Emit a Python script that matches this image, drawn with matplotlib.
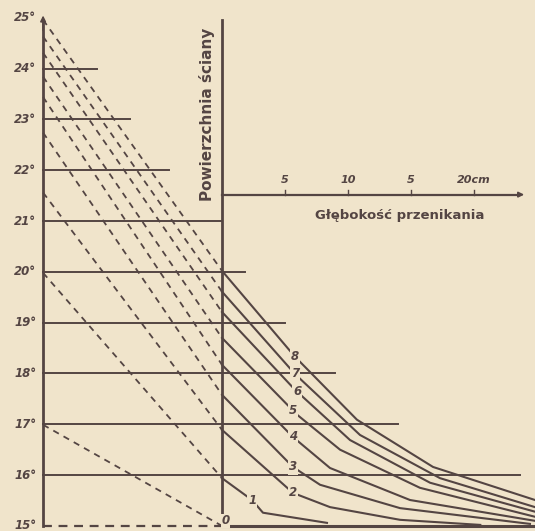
import numpy as np
import matplotlib.pyplot as plt

# temperature scale (deg C) and depth scale (cm)
temps = [15, 16, 17, 18, 19, 20, 21, 22, 23, 24, 25]
temp_labels = ['15°', '16°', '17°', '18°', '19°', '20°', '21°', '22°', '23°', '24°', '25°']
# right end (cm) of the horizontal temperature lines 16..24
hline_temps = [16, 17, 18, 19, 20, 21, 22, 23, 24]
hline_ends = [23.65, 13.97, 8.97, 5.0, 1.83, 0.0, -4.21, -7.30, -9.92]

depth_ticks = [5, 10, 15, 20]
depth_labels = ['5', '10', '5', '20cm']

# temperature profiles in the wall, curves 1..8 (depth cm, temp C)
curve_ids = [1, 2, 3, 4, 5, 6, 7, 8]
curve_depth = [
    [0, 2.38, 3.25, 8.33],
    [0, 5.63, 8.57, 14.13, 20.5],
    [0, 5.63, 7.78, 14.13, 24.44],
    [0, 5.63, 8.57, 14.92, 24.84],
    [0, 5.95, 9.37, 15.71, 24.84],
    [0, 5.79, 10.16, 16.51, 24.84],
    [0, 5.79, 10.95, 17.3, 24.84],
    [0, 5.79, 10.71, 16.75, 24.84],
]
curve_temp = [
    [15.94, 15.51, 15.26, 15.06],
    [16.89, 15.65, 15.37, 15.12, 15.02],
    [17.58, 16.16, 15.81, 15.35, 15.04],
    [18.17, 16.75, 16.14, 15.51, 15.10],
    [18.70, 17.19, 16.50, 15.75, 15.18],
    [19.21, 17.68, 16.69, 15.85, 15.28],
    [19.61, 17.99, 16.79, 15.94, 15.37],
    [20.02, 18.33, 17.09, 16.16, 15.51],
]
# dashed lines: temperature at the outer axis and at the wall surface (curves 0..8)
dash_outer = [16.99, 19.98, 21.56, 22.74, 23.44, 23.84, 24.31, 24.63, 24.96]
dash_wall = [15.0, 15.94, 16.89, 17.58, 18.17, 18.70, 19.21, 19.61, 20.02]
outer_x = -14.2
label_depth = [2.4, 5.63, 5.63, 5.63, 5.63, 5.95, 5.79, 5.79, 5.79]

bg = '#f0e4cb'
ink = '#544543'

fig = plt.figure(figsize=(5.35, 5.31), dpi=100, facecolor=bg)
ax = fig.add_axes([0, 0, 1, 1], facecolor=bg)
ax.set_xlim(-17.62, 24.84)
ax.set_ylim(14.90, 25.35)
ax.axis('off')

# left temperature axis with arrow
ax.plot([outer_x, outer_x], [15, 24.9], color=ink, lw=2)
ax.annotate('', xy=(outer_x, 25.1), xytext=(outer_x, 24.7),
            arrowprops=dict(arrowstyle='-|>', color=ink, lw=1.2, mutation_scale=8))
for t, lab in zip(temps, temp_labels):
    ax.text(outer_x - 0.55, t, lab, ha='right', va='center', fontsize=8.5,
            style='italic', fontweight='bold', color=ink)

# horizontal temperature lines
for t, xe in zip(hline_temps, hline_ends):
    ax.plot([outer_x, xe], [t, t], color=ink, lw=1.4)

# baseline at 15 deg
ax.plot([outer_x, 0], [15, 15], color=ink, lw=1.6, ls=(0, (4, 3)))
ax.plot([0, 24.84], [15, 15], color=ink, lw=2.2)

# wall surface
ax.plot([0, 0], [15, 24.96], color=ink, lw=2)
ax.text(-1.2, 23.1, 'Powierzchnia ściany', rotation=90, ha='center', va='center',
        fontsize=11, fontweight='bold', color=ink)

# depth axis
ax.plot([0, 23.6], [21.52, 21.52], color=ink, lw=1.6)
ax.annotate('', xy=(24.2, 21.52), xytext=(23.4, 21.52),
            arrowprops=dict(arrowstyle='-|>', color=ink, lw=1.2, mutation_scale=8))
for d, lab in zip(depth_ticks, depth_labels):
    ax.plot([d, d], [21.52, 21.62], color=ink, lw=1)
    ax.text(d, 21.81, lab, ha='center', va='center', fontsize=8,
            style='italic', fontweight='bold', color=ink)
ax.text(14.13, 21.1, 'Głębokość przenikania', ha='center', va='center',
        fontsize=9.5, fontweight='bold', color=ink)

# dashed extrapolation lines
for to, tw in zip(dash_outer, dash_wall):
    ax.plot([outer_x, 0], [to, tw], color=ink, lw=1.3, ls=(0, (3.5, 3)))

# temperature profiles
for cid, d, t in zip(curve_ids, curve_depth, curve_temp):
    ax.plot(d, t, color=ink, lw=1.5)

# curve numbers
ax.text(0.3, 15.1, '0', ha='center', va='center', fontsize=8.5,
        style='italic', fontweight='bold', color=ink,
        bbox=dict(boxstyle='square,pad=0.05', fc=bg, ec='none'))
for cid, d, t, ld in zip(curve_ids, curve_depth, curve_temp, label_depth):
    ty = np.interp(ld, d, t)
    ax.text(ld, ty, str(cid), ha='center', va='center', fontsize=8.5,
            style='italic', fontweight='bold', color=ink,
            bbox=dict(boxstyle='square,pad=0.1', fc=bg, ec='none'))

plt.savefig('out.png', dpi=100, facecolor=bg)
